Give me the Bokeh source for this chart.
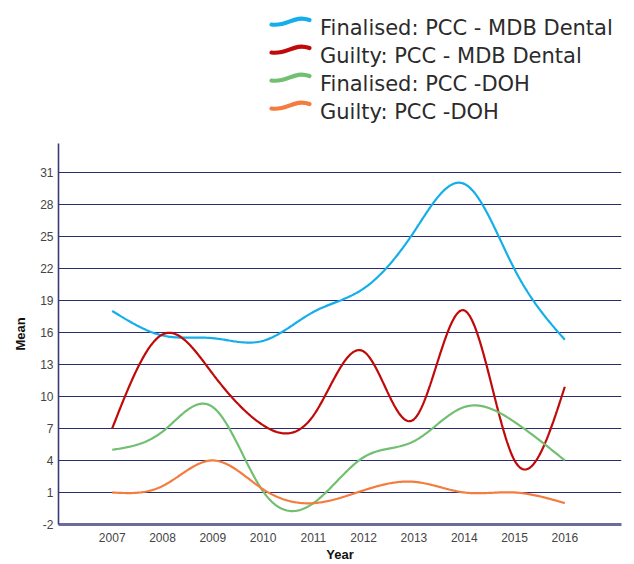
import numpy as np
from bokeh.plotting import figure
from bokeh.layouts import column
from bokeh.models import Range1d, FixedTicker
from bokeh.core.properties import value
from bokeh.embed import file_html
from bokeh.resources import INLINE

# ---- data ----
years = [2007, 2008, 2009, 2010, 2011, 2012, 2013, 2014, 2015, 2016]
finalised_mdb = [18.0, 15.7, 15.45, 15.2, 17.9, 20.1, 25.4, 29.9, 21.9, 15.3]
guilty_mdb = [7.0, 15.8, 12.1, 7.3, 8.2, 14.2, 7.85, 18.05, 4.0, 10.9]
finalised_doh = [5.0, 6.7, 9.0, 1.1, 0.0, 4.3, 5.8, 9.0, 7.6, 4.0]
guilty_doh = [1.0, 1.6, 4.0, 1.3, 0.0, 1.2, 2.0, 1.0, 1.0, 0.0]
series_names = ["Finalised: PCC - MDB Dental", "Guilty: PCC - MDB Dental",
                "Finalised: PCC -DOH", "Guilty: PCC -DOH"]
y_ticks = [-2, 1, 4, 7, 10, 13, 16, 19, 22, 25, 28, 31]

series = [finalised_mdb, guilty_mdb, finalised_doh, guilty_doh]
colors = ["#14aee9", "#c00a0a", "#72bf72", "#f47c3e"]

FONT = "Liberation Sans"
LEG_FONT = "DejaVu Sans"

W = 634
BL, BR = 58, 13          # left / right borders around the plotting frame


def natural_spline(xs, ys, n=40):
    xs = np.asarray(xs, float)
    ys = np.asarray(ys, float)
    k = len(xs)
    h = np.diff(xs)
    A = np.zeros((k, k))
    b = np.zeros(k)
    A[0, 0] = 1
    A[-1, -1] = 1
    for i in range(1, k - 1):
        A[i, i - 1] = h[i - 1]
        A[i, i] = 2 * (h[i - 1] + h[i])
        A[i, i + 1] = h[i]
        b[i] = 6 * ((ys[i + 1] - ys[i]) / h[i] - (ys[i] - ys[i - 1]) / h[i - 1])
    M = np.linalg.solve(A, b)
    ox, oy = [], []
    for i in range(k - 1):
        t = np.linspace(xs[i], xs[i + 1], n, endpoint=(i == k - 2))
        a = xs[i + 1] - t
        c = t - xs[i]
        hi = h[i]
        s = (M[i] * a ** 3 / (6 * hi) + M[i + 1] * c ** 3 / (6 * hi)
             + (ys[i] / hi - M[i] * hi / 6) * a + (ys[i + 1] / hi - M[i + 1] * hi / 6) * c)
        ox.extend(t)
        oy.extend(s)
    return ox, oy


# ---- legend figure (page pixel coordinates, y downwards) ----
LH = 130
leg = figure(width=W, height=LH, x_range=Range1d(BL, W - BR), y_range=Range1d(LH, 0),
             x_axis_location=None, y_axis_location=None,
             output_backend="svg", toolbar_location=None,
             min_border_left=BL, min_border_right=BR, min_border_top=0, min_border_bottom=0)
leg.grid.visible = False
leg.outline_line_color = None
for i, (name, col) in enumerate(zip(series_names, colors)):
    base = 27.5 + 28 * i
    c = base - 6.5
    leg.bezier(x0=[271], y0=[c + 3], x1=[309], y1=[c - 1.5],
               cx0=[287], cy0=[c + 5.5], cx1=[293], cy1=[c - 7],
               line_color=col, line_width=4.2, line_cap="round")
    leg.text(x=[319.5], y=[base], text=[name], text_font=value(LEG_FONT),
             text_font_size="21px", text_color="#2b2b2b", text_baseline="alphabetic")

# ---- main figure ----
p = figure(width=W, height=564 - LH, x_range=Range1d(2005.932, 2017.127), y_range=Range1d(-2, 33.68),
           output_backend="svg", toolbar_location=None,
           min_border_left=BL, min_border_right=BR, min_border_top=143 - LH, min_border_bottom=0)
p.outline_line_color = None

p.xaxis.ticker = FixedTicker(ticks=years)
p.yaxis.ticker = FixedTicker(ticks=y_ticks)
p.yaxis.major_label_overrides = {t: str(t) for t in y_ticks}
p.xgrid.visible = False
p.ygrid.grid_line_color = "#2c2c70"
p.ygrid.grid_line_width = 1.2

for ax in (p.xaxis, p.yaxis):
    ax.major_tick_line_color = None
    ax.minor_tick_line_color = None
    ax.major_tick_out = 0
    ax.major_tick_in = 0
    ax.major_label_text_font = FONT
    ax.major_label_text_font_size = "12px"
    ax.major_label_text_color = "#444444"
    ax.axis_label_text_font = FONT
    ax.axis_label_text_font_style = "bold"
    ax.axis_label_text_font_size = "13px"
    ax.axis_label_text_color = "#111111"

p.yaxis.axis_label = "Mean"
p.yaxis.axis_line_color = "#3a3a78"
p.yaxis.axis_line_width = 1.6
p.yaxis.major_label_standoff = 5
p.yaxis.axis_label_standoff = 9

p.xaxis.axis_label = "Year"
p.xaxis.axis_line_color = "#6c6c9c"
p.xaxis.axis_line_width = 3
p.xaxis.major_label_standoff = 8
p.xaxis.axis_label_standoff = 2

for ys, col in zip(series, colors):
    sx, sy = natural_spline(years, ys)
    p.line(sx, sy, line_color=col, line_width=2.2)

layout = column(leg, p, spacing=0)
open("out.html", "w").write(file_html(layout, INLINE))
